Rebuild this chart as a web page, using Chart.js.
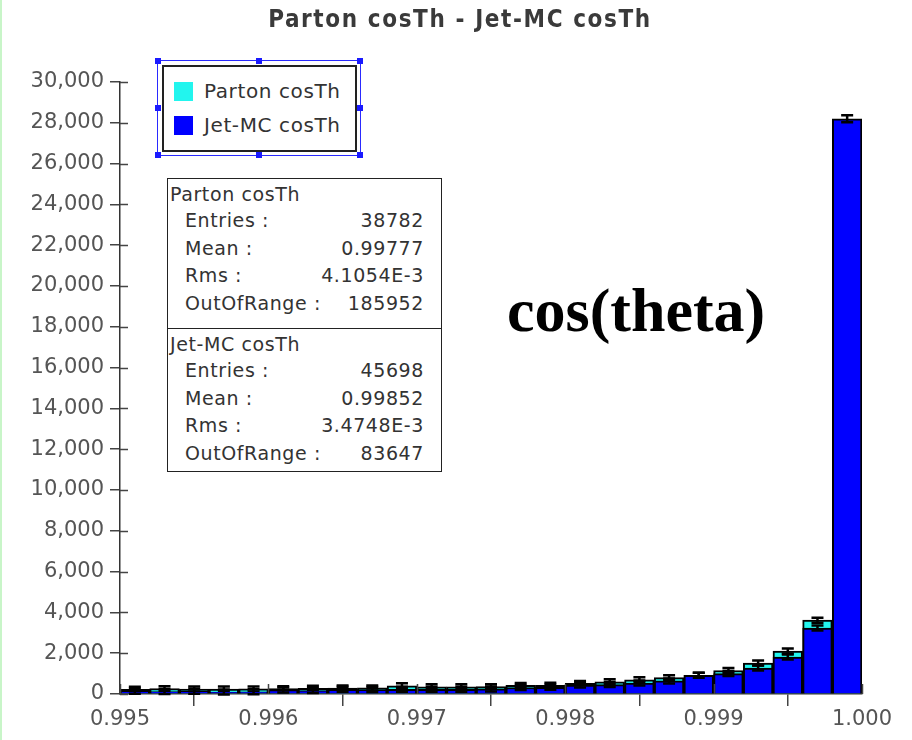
<!DOCTYPE html>
<html>
<head>
<meta charset="utf-8">
<script src="https://cdn.jsdelivr.net/npm/chart.js@4/dist/chart.umd.min.js"></script>
<style>
  body { margin: 0; background: #fff; }
  #wrap { position: relative; width: 912px; height: 740px; overflow: hidden; }
  #edge { position: absolute; left: 0; top: 0; width: 2px; height: 740px; background: #c8f5c8; }
  #title { position: absolute; left: 0; width: 920px; top: 5px; text-align: center;
           font: bold 24px "DejaVu Sans Condensed", "DejaVu Sans", sans-serif; color: #3a3a3a; letter-spacing: 1.6px; }
  .txt { font-family: "DejaVu Sans", sans-serif; color: #333; letter-spacing: 0.6px; }
  #legSel { position: absolute; left: 157px; top: 60px; width: 202px; height: 94px; border: 1px solid #2a2aff; }
  .h { position: absolute; width: 6px; height: 6px; background: #1a1aff; }
  #legBox { position: absolute; left: 162px; top: 65px; width: 191px; height: 83px; border: 2px solid #222; background: #fff; }
  .li { position: absolute; left: 10px; font-size: 20px; white-space: nowrap; }
  .sw { display: inline-block; width: 19px; height: 19px; vertical-align: -3px; margin-right: 11px; }
  #stats { position: absolute; left: 167px; top: 178px; width: 273px; height: 292px; border: 1px solid #222; background: #fff; }
  #stats .sec { position: absolute; left: 0; width: 273px; height: 146px; }
  #stats .hd { position: absolute; left: 2px; font-size: 19px; }
  #stats .lb { position: absolute; left: 17px; font-size: 19px; }
  #stats .vl { position: absolute; right: 17px; font-size: 19px; }
  #cos { position: absolute; left: 507px; top: 275px; font: bold 62px "Liberation Serif", "Times New Roman", serif; color: #000; }
</style>
</head>
<body>
<div id="wrap">
  <canvas id="c" width="912" height="740"></canvas>
  <div id="edge"></div>
  <div id="title">Parton cosTh - Jet-MC cosTh</div>
  <div id="legSel"></div>
  <div id="legBox" class="txt"></div>
  <div id="stats" class="txt"></div>
  <div id="cos">cos(theta)</div>
</div>
<script>
// bin centres, width 0.0002, 0.995 .. 1.000
const binCentres = [0.9951, 0.9953, 0.9955, 0.9957, 0.9959, 0.9961, 0.9963, 0.9965, 0.9967, 0.9969,
                    0.9971, 0.9973, 0.9975, 0.9977, 0.9979, 0.9981, 0.9983, 0.9985, 0.9987, 0.9989,
                    0.9991, 0.9993, 0.9995, 0.9997, 0.9999];
const partonCounts = [230, 260, 240, 240, 250, 260, 280, 290, 300, 400,
                      350, 350, 360, 420, 430, 520, 600, 700, 800, 920,
                      1150, 1520, 2110, 3620, 22200];
const jetCounts = [130, 120, 130, 100, 110, 200, 170, 230, 220, 230,
                   230, 230, 250, 320, 330, 440, 460, 540, 640, 920,
                   1000, 1270, 1810, 3230, 28200];
const seriesNames = ['Parton cosTh', 'Jet-MC cosTh'];
const seriesColors = ['#22f5ee', '#0000ff'];
const xTicks = [0.995, 0.996, 0.997, 0.998, 0.999, 1.000];
const statRows = [
    [['Entries :', '38782'], ['Mean :', '0.99777'], ['Rms :', '4.1054E-3'], ['OutOfRange :', '185952']],
    [['Entries :', '45698'], ['Mean :', '0.99852'], ['Rms :', '3.4748E-3'], ['OutOfRange :', '83647']]
];

// legend + stats box (html text)
const legBox = document.getElementById('legBox');
seriesNames.forEach((name, i) => {
    const d = document.createElement('div');
    d.className = 'li';
    d.style.top = (12 + i * 34) + 'px';
    d.innerHTML = `<span class="sw" style="background:${seriesColors[i]}"></span>${name}`;
    legBox.appendChild(d);
});
const sel = document.getElementById('legSel');
[[-3, -3], [98, -3], [199, -3], [-3, 44], [199, 44], [-3, 91], [98, 91], [199, 91]].forEach(p => {
    const h = document.createElement('div');
    h.className = 'h';
    h.style.left = p[0] + 'px';
    h.style.top = p[1] + 'px';
    sel.appendChild(h);
});
const stats = document.getElementById('stats');
seriesNames.forEach((name, s) => {
    const sec = document.createElement('div');
    sec.className = 'sec';
    sec.style.top = (s * 149) + 'px';
    if (s === 1) sec.style.borderTop = '1px solid #222';
    let html = `<div class="hd" style="top:4px">${name}</div>`;
    statRows[s].forEach((r, k) => {
        const t = 30 + k * 27.5;
        html += `<div class="lb" style="top:${t}px">${r[0]}</div><div class="vl" style="top:${t}px">${r[1]}</div>`;
    });
    sec.innerHTML = html;
    stats.appendChild(sec);
});

// error bars drawn right after each dataset
const errorBars = {
    id: 'errorBars',
    afterDatasetDraw(chart, args) {
        const ctx = chart.ctx, y = chart.scales.y, x = chart.scales.x;
        const ds = chart.data.datasets[args.index];
        ctx.save();
        ctx.strokeStyle = '#000';
        ctx.lineWidth = 2.5;
        ds.data.forEach(p => {
            const e = Math.sqrt(p.y);
            const cy = y.getPixelForValue(p.y);
            const half = Math.max(cy - y.getPixelForValue(p.y + e), 2.5);
            const cx = x.getPixelForValue(p.x);
            ctx.beginPath();
            ctx.moveTo(cx, cy - half); ctx.lineTo(cx, cy + half);
            ctx.moveTo(cx - 6, cy - half); ctx.lineTo(cx + 6, cy - half);
            ctx.moveTo(cx - 6, cy + half); ctx.lineTo(cx + 6, cy + half);
            ctx.stroke();
        });
        ctx.restore();
    }
};

// tick marks that cross the axes
const innerTicks = {
    id: 'innerTicks',
    afterDraw(chart) {
        const ctx = chart.ctx, a = chart.chartArea;
        ctx.save();
        ctx.strokeStyle = '#444';
        ctx.lineWidth = 1.5;
        ctx.beginPath();
        chart.scales.y.ticks.forEach(t => {
            const py = Math.round(chart.scales.y.getPixelForValue(t.value)) + 0.5;
            ctx.moveTo(a.left, py); ctx.lineTo(a.left + 8, py);
        });
        chart.scales.x.ticks.forEach(t => {
            const px = Math.round(chart.scales.x.getPixelForValue(t.value)) + 0.5;
            ctx.moveTo(px, a.bottom); ctx.lineTo(px, a.bottom - 10);
        });
        ctx.stroke();
        ctx.restore();
    }
};

new Chart(document.getElementById('c'), {
    type: 'bar',
    data: {
        datasets: [
            {
                label: seriesNames[1],
                data: binCentres.map((c, i) => ({ x: c, y: jetCounts[i] })),
                backgroundColor: seriesColors[1],
                borderColor: '#000',
                borderWidth: 2,
                order: 0
            },
            {
                label: seriesNames[0],
                data: binCentres.map((c, i) => ({ x: c, y: partonCounts[i] })),
                backgroundColor: seriesColors[0],
                borderColor: '#000',
                borderWidth: 2,
                order: 1
            }
        ]
    },
    options: {
        responsive: false,
        animation: false,
        grouped: false,
        barPercentage: 1,
        categoryPercentage: 1,
        layout: { padding: { top: 82, right: 50, left: 0, bottom: 0 } },
        plugins: { legend: { display: false }, tooltip: { enabled: false } },
        scales: {
            x: {
                type: 'linear',
                min: 0.995,
                max: 1.0,
                offset: false,
                afterBuildTicks: s => { s.ticks = xTicks.map(v => ({ value: v })); },
                afterFit: s => { s.height = 46; },
                ticks: { font: { family: 'DejaVu Sans', size: 21 }, color: '#555', padding: 1, maxRotation: 0,
                         callback: v => v.toFixed(3) },
                grid: { drawOnChartArea: false, tickLength: 12, color: '#444', lineWidth: 1.5 },
                border: { color: '#333', width: 1.5 }
            },
            y: {
                min: 0,
                max: 30000,
                afterFit: s => { s.width = 120; },
                ticks: { stepSize: 2000, font: { family: 'DejaVu Sans', size: 21 }, color: '#555', padding: 6,
                         callback: v => v.toLocaleString('en-US') },
                grid: { drawOnChartArea: false, tickLength: 10, color: '#444', lineWidth: 1.5 },
                border: { color: '#333', width: 1.5 }
            }
        }
    },
    plugins: [errorBars, innerTicks]
});
</script>
</body>
</html>
